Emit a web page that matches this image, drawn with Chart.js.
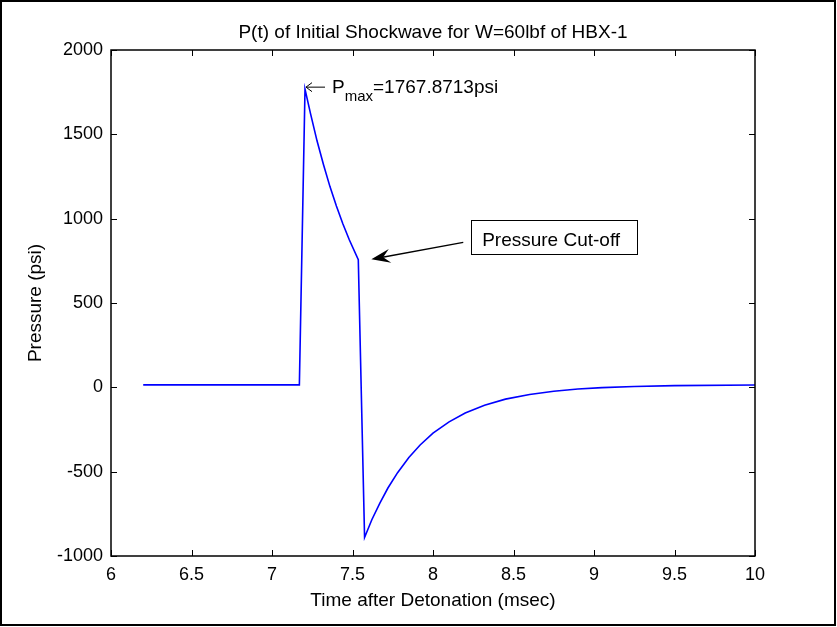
<!DOCTYPE html>
<html>
<head>
<meta charset="utf-8">
<script src="https://cdn.jsdelivr.net/npm/chart.js@4.4.1/dist/chart.umd.min.js"></script>
<style>
  html, body { margin: 0; padding: 0; background: #fff; }
</style>
</head>
<body>
<canvas id="canvas" width="837" height="627"></canvas>
<script>
// values
const timeMs = [6.2, 7.17, 7.205, 7.24, 7.28, 7.32, 7.36, 7.40, 7.44, 7.48, 7.536,
    7.575, 7.62, 7.67, 7.72, 7.78, 7.85, 7.92, 8.0, 8.1, 8.2, 8.32, 8.45, 8.6, 8.75, 8.9,
    9.05, 9.25, 9.5, 10.0];
const pressurePsi = [14.7, 14.7, 1767.87, 1620, 1460, 1320, 1190, 1075, 970, 875, 757,
    -890, -785, -686, -597, -506, -416, -342, -272, -205, -152, -106, -70, -42, -23, -10,
    -2, 5, 10, 14];

const xTickValues = [6, 6.5, 7, 7.5, 8, 8.5, 9, 9.5, 10];
const yTickValues = [-1000, -500, 0, 500, 1000, 1500, 2000];

const chartTitle = "P(t) of Initial Shockwave for W=60lbf of HBX-1";
const xAxisTitle = "Time after Detonation (msec)";
const yAxisTitle = "Pressure (psi)";
const peakLabel = ["P", "max", "=1767.8713psi"];
const cutoffLabel = "Pressure Cut-off";

// annotation anchors in data units (ms, psi)
const cutoffArrowTip = { t: 7.617, p: 759 };
const cutoffArrowTail = { t: 8.188, p: 860 };
const cutoffBox = { t1: 8.237, t2: 9.268, p1: 990, p2: 788 };

const FONT = '"Liberation Sans", Arial, sans-serif';

const framePlugin = {
    id: 'framePlugin',
    afterDraw(chart) {
        const ctx = chart.ctx;
        const { left, right, top, bottom } = chart.chartArea;
        const xs = chart.scales.x, ys = chart.scales.y;
        ctx.save();

        // outer picture frame
        ctx.strokeStyle = '#000';
        ctx.lineWidth = 2;
        ctx.strokeRect(1, 1, 834, 624);

        // axes box
        ctx.lineWidth = 1.5;
        ctx.strokeRect(left, top, right - left, bottom - top);

        // inward ticks on all four sides
        ctx.lineWidth = 1;
        ctx.beginPath();
        xTickValues.forEach(v => {
            const px = Math.round(xs.getPixelForValue(v)) + 0.5;
            ctx.moveTo(px, bottom); ctx.lineTo(px, bottom - 6);
            ctx.moveTo(px, top); ctx.lineTo(px, top + 6);
        });
        yTickValues.forEach(v => {
            const py = Math.round(ys.getPixelForValue(v)) + 0.5;
            ctx.moveTo(left, py); ctx.lineTo(left + 6, py);
            ctx.moveTo(right, py); ctx.lineTo(right - 6, py);
        });
        ctx.stroke();

        ctx.fillStyle = '#000';
        // title
        ctx.font = '19px ' + FONT;
        ctx.textAlign = 'center';
        ctx.textBaseline = 'alphabetic';
        ctx.fillText(chartTitle, (left + right) / 2, 38);
        // x title
        ctx.fillText(xAxisTitle, (left + right) / 2, 606);
        // y title
        ctx.save();
        ctx.translate(41, (top + bottom) / 2);
        ctx.rotate(-Math.PI / 2);
        ctx.fillText(yAxisTitle, 0, 0);
        ctx.restore();

        // Pmax label next to peak
        const iMax = pressurePsi.indexOf(Math.max(...pressurePsi));
        const pkx = xs.getPixelForValue(timeMs[iMax]);
        const pky = ys.getPixelForValue(pressurePsi[iMax]);
        const ay = pky - 2;
        ctx.lineWidth = 1;
        ctx.beginPath();
        ctx.moveTo(pkx + 1, ay); ctx.lineTo(pkx + 20, ay);
        ctx.moveTo(pkx + 1, ay); ctx.lineTo(pkx + 7, ay - 4.5);
        ctx.moveTo(pkx + 1, ay); ctx.lineTo(pkx + 7, ay + 4.5);
        ctx.stroke();
        ctx.textAlign = 'left';
        let tx = pkx + 27;
        ctx.font = '19px ' + FONT;
        ctx.fillText(peakLabel[0], tx, pky + 4);
        tx += ctx.measureText(peakLabel[0]).width;
        ctx.font = '15px ' + FONT;
        ctx.fillText(peakLabel[1], tx, pky + 12);
        tx += ctx.measureText(peakLabel[1]).width;
        ctx.font = '19px ' + FONT;
        ctx.fillText(peakLabel[2], tx, pky + 4);

        // cut-off text box
        const bx1 = xs.getPixelForValue(cutoffBox.t1), bx2 = xs.getPixelForValue(cutoffBox.t2);
        const by1 = ys.getPixelForValue(cutoffBox.p1), by2 = ys.getPixelForValue(cutoffBox.p2);
        ctx.lineWidth = 1;
        ctx.strokeRect(Math.round(bx1) + 0.5, Math.round(by1) + 0.5, Math.round(bx2 - bx1), Math.round(by2 - by1));
        ctx.fillText(cutoffLabel, bx1 + 11, by2 - 8);

        // cut-off arrow
        const hx = xs.getPixelForValue(cutoffArrowTip.t), hy = ys.getPixelForValue(cutoffArrowTip.p);
        const sx = xs.getPixelForValue(cutoffArrowTail.t), sy = ys.getPixelForValue(cutoffArrowTail.p);
        const ang = Math.atan2(hy - sy, hx - sx);
        ctx.lineWidth = 1.3;
        ctx.beginPath();
        ctx.moveTo(sx, sy);
        ctx.lineTo(hx - 10 * Math.cos(ang), hy - 10 * Math.sin(ang));
        ctx.stroke();
        const L = 19, W = 7;
        ctx.beginPath();
        ctx.moveTo(hx, hy);
        ctx.lineTo(hx - L * Math.cos(ang) + W * Math.sin(ang), hy - L * Math.sin(ang) - W * Math.cos(ang));
        ctx.lineTo(hx - 12 * Math.cos(ang), hy - 12 * Math.sin(ang));
        ctx.lineTo(hx - L * Math.cos(ang) - W * Math.sin(ang), hy - L * Math.sin(ang) + W * Math.cos(ang));
        ctx.closePath();
        ctx.fill();

        ctx.restore();
    }
};

const ctx = document.getElementById("canvas").getContext("2d");
new Chart(ctx, {
    type: "line",
    data: {
        datasets: [{
            data: timeMs.map((t, i) => ({ x: t, y: pressurePsi[i] })),
            borderColor: "#0000ff",
            borderWidth: 1.6,
            pointRadius: 0,
            tension: 0,
            fill: false
        }]
    },
    options: {
        responsive: false,
        animation: false,
        layout: { padding: { top: 50, right: 82, left: 0, bottom: 0 } },
        plugins: {
            legend: { display: false },
            tooltip: { enabled: false }
        },
        scales: {
            x: {
                type: "linear",
                min: 6,
                max: 10,
                grid: { display: false, drawTicks: false },
                border: { display: false },
                afterBuildTicks: axis => { axis.ticks = xTickValues.map(v => ({ value: v })); },
                afterFit: axis => { axis.height = 71; },
                ticks: {
                    padding: 8,
                    color: "#000",
                    maxRotation: 0,
                    font: { family: FONT, size: 18 },
                    callback: v => String(v)
                }
            },
            y: {
                type: "linear",
                min: -1000,
                max: 2000,
                grid: { display: false, drawTicks: false },
                border: { display: false },
                afterBuildTicks: axis => { axis.ticks = yTickValues.map(v => ({ value: v })); },
                afterFit: axis => { axis.width = 111; },
                ticks: {
                    padding: 8,
                    color: "#000",
                    font: { family: FONT, size: 18 },
                    callback: v => String(v)
                }
            }
        }
    },
    plugins: [framePlugin]
});
</script>
</body>
</html>
